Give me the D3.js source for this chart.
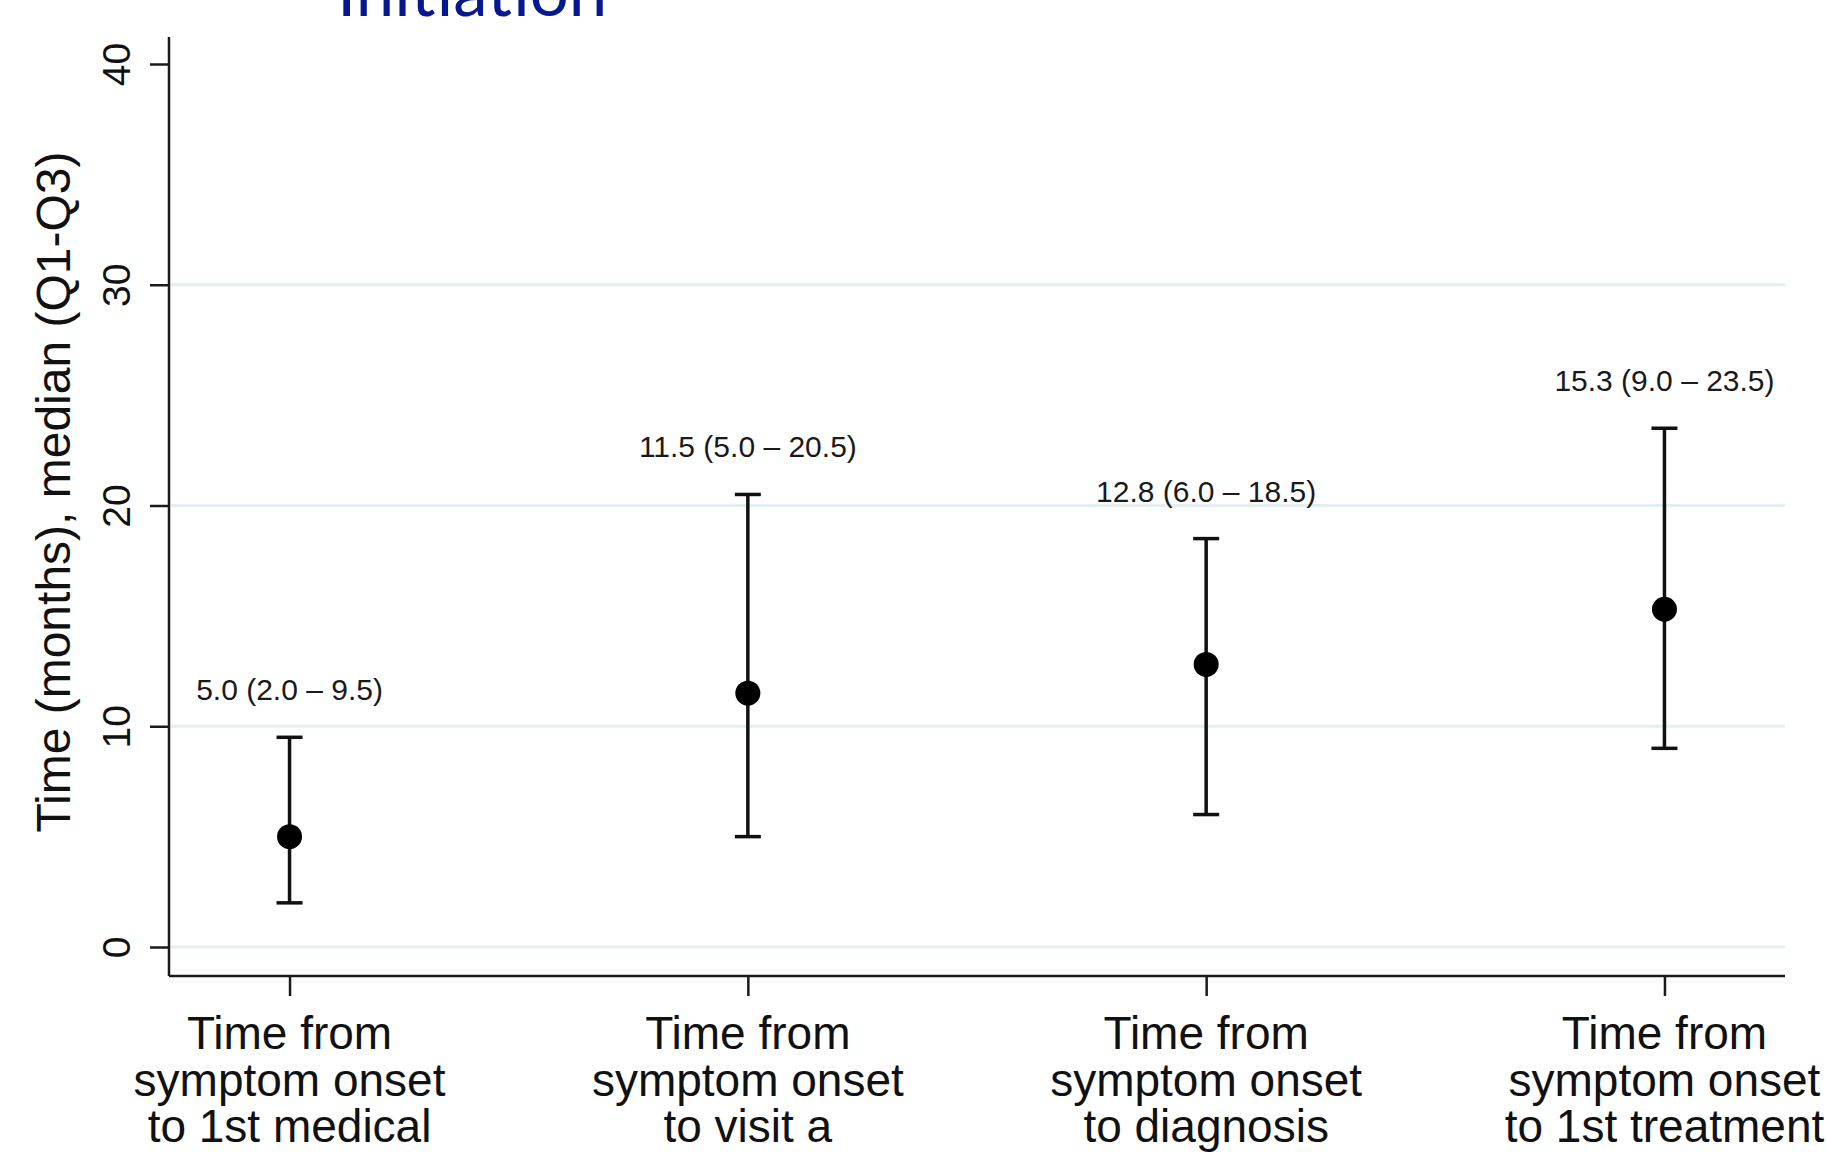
<!DOCTYPE html>
<html>
<head>
  <meta charset="utf-8">
  <title>Time to treatment initiation</title>
  <script src="https://cdn.jsdelivr.net/npm/d3@7"></script>
  <style>
    html, body { margin: 0; padding: 0; background: #fff; overflow: hidden; }
    svg { display: block; font-family: "Liberation Sans", Arial, sans-serif; }
    .domain { stroke: #1a1a1a; stroke-width: 2.5px; }
    .tick line { stroke: #1a1a1a; stroke-width: 2.5px; }
  </style>
</head>
<body>
  <div id="chart-area"></div>
  <script>
    // data
    const categories = ["onset-medical", "onset-visit", "onset-diagnosis", "onset-treatment"];
    const labelLines = [
      ["Time from", "symptom onset", "to 1st medical"],
      ["Time from", "symptom onset", "to visit a"],
      ["Time from", "symptom onset", "to diagnosis"],
      ["Time from", "symptom onset", "to 1st treatment"]
    ];
    const medians = [5.0, 11.5, 12.8, 15.3];
    const q1 = [2.0, 5.0, 6.0, 9.0];
    const q3 = [9.5, 20.5, 18.5, 23.5];
    const yTicks = [0, 10, 20, 30, 40];
    const gridValues = [0, 10, 20, 30];

    const width = 1827;
    const height = 1152;
    const plotLeft = 169, plotRight = 1785, plotTop = 37, plotBottom = 976;

    const svg = d3.select("#chart-area")
      .append("svg")
        .attr("width", width)
        .attr("height", height);

    // cut-off title at the very top
    svg.append("text")
      .attr("x", 337)
      .attr("y", 16)
      .attr("fill", "#06188f")
      .style("font-family", "Lato, 'Open Sans', sans-serif")
      .style("font-size", "69px")
      .text("Initiation");

    const y = d3.scaleLinear()
      .domain([0, 40])
      .range([947, 64]);

    const x = d3.scalePoint()
      .domain(categories)
      .range([plotLeft, plotRight])
      .padding(0.263);

    // gridlines
    svg.append("g")
      .selectAll("line")
      .data(gridValues)
      .join("line")
        .attr("x1", plotLeft + 2)
        .attr("x2", plotRight)
        .attr("y1", d => y(d))
        .attr("y2", d => y(d))
        .attr("stroke", "#e4edf0")
        .attr("stroke-width", 3);

    // y axis
    const yAxis = svg.append("g")
      .attr("transform", `translate(${plotLeft},0)`)
      .call(d3.axisLeft(y).tickValues(yTicks).tickSize(19).tickSizeOuter(0));
    yAxis.select(".domain").attr("d", `M0,${plotTop}V${plotBottom}`);
    yAxis.selectAll(".tick text")
      .attr("x", null).attr("dy", null)
      .attr("transform", "translate(-39,0) rotate(-90)")
      .attr("text-anchor", "middle")
      .attr("fill", "#111")
      .style("font-size", "39px")
      .style("font-family", "'Liberation Sans', Arial, sans-serif");

    svg.append("text")
      .attr("transform", "translate(70,492) rotate(-90)")
      .attr("text-anchor", "middle")
      .attr("fill", "#111")
      .style("font-size", "48px")
      .text("Time (months), median (Q1-Q3)");

    // x axis
    const xAxis = svg.append("g")
      .attr("transform", `translate(0,${plotBottom})`)
      .call(d3.axisBottom(x).tickSize(20).tickSizeOuter(0).tickFormat(""));
    xAxis.select(".domain").attr("d", `M${plotLeft},0H${plotRight}`);
    xAxis.selectAll(".tick text").remove();

    categories.forEach((c, i) => {
      svg.append("text")
        .attr("x", x(c))
        .attr("y", 1049)
        .attr("text-anchor", "middle")
        .attr("fill", "#111")
        .style("font-size", "46px")
        .selectAll("tspan")
        .data(labelLines[i])
        .join("tspan")
          .attr("x", x(c))
          .attr("dy", (d, j) => j === 0 ? 0 : 46.6)
          .text(d => d);
    });

    const rows = categories.map((c, i) => ({ c, m: medians[i], lo: q1[i], hi: q3[i] }));

    // error bars
    const bars = svg.append("g")
      .attr("stroke", "#111")
      .attr("stroke-width", 3.5);
    bars.selectAll("line.stem")
      .data(rows)
      .join("line")
        .attr("class", "stem")
        .attr("x1", d => x(d.c)).attr("x2", d => x(d.c))
        .attr("y1", d => y(d.lo)).attr("y2", d => y(d.hi));
    bars.selectAll("line.cap")
      .data(rows.flatMap(d => [{ c: d.c, v: d.lo }, { c: d.c, v: d.hi }]))
      .join("line")
        .attr("class", "cap")
        .attr("x1", d => x(d.c) - 13).attr("x2", d => x(d.c) + 13)
        .attr("y1", d => y(d.v)).attr("y2", d => y(d.v));

    // medians
    svg.append("g")
      .selectAll("circle")
      .data(rows)
      .join("circle")
        .attr("cx", d => x(d.c))
        .attr("cy", d => y(d.m))
        .attr("r", 12.5)
        .attr("fill", "#000");

    // value labels
    svg.append("g")
      .selectAll("text")
      .data(rows)
      .join("text")
        .attr("x", d => x(d.c))
        .attr("y", d => y(d.hi) - 37)
        .attr("text-anchor", "middle")
        .attr("fill", "#1a1a1a")
        .style("font-size", "30px")
        .text(d => `${d.m.toFixed(1)} (${d.lo.toFixed(1)} – ${d.hi.toFixed(1)})`);
  </script>
</body>
</html>
